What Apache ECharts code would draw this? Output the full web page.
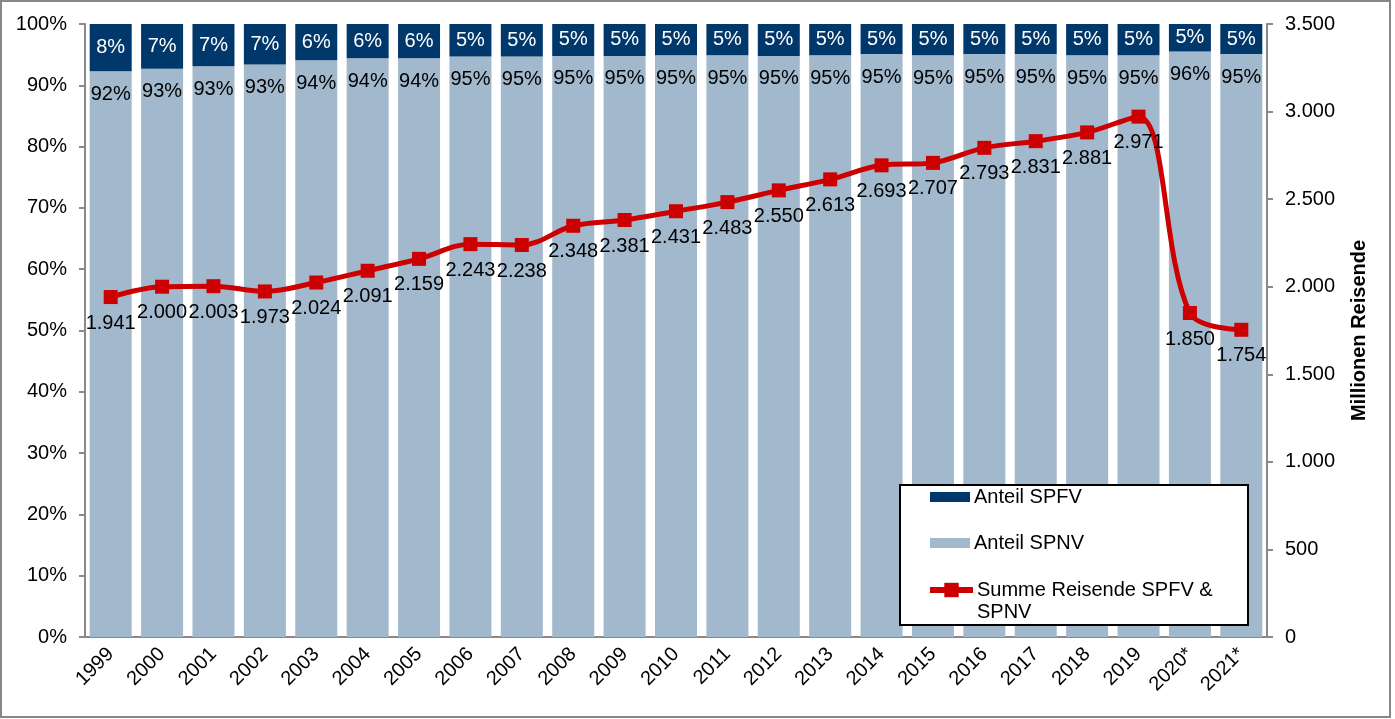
<!DOCTYPE html>
<html>
<head>
<meta charset="utf-8">
<script src="https://cdn.jsdelivr.net/npm/echarts@6/dist/echarts.min.js"></script>
<style>
html,body{margin:0;padding:0;background:#fff;}
#chart{width:1395px;height:719px;}
</style>
</head>
<body>
<div id="chart"></div>
<script>
const years = ['1999','2000','2001','2002','2003','2004','2005','2006','2007','2008','2009','2010','2011','2012','2013','2014','2015','2016','2017','2018','2019','2020*','2021*'];
const shareSPFV = [7.7, 7.3, 6.9, 6.6, 5.9, 5.6, 5.6, 5.3, 5.3, 5.2, 5.2, 5.1, 5.1, 5.2, 5.1, 4.9, 5.1, 4.9, 4.9, 5.1, 5.1, 4.7, 4.9];
const shareSPNV = [92.3, 92.7, 93.1, 93.4, 94.1, 94.4, 94.4, 94.7, 94.7, 94.8, 94.8, 94.9, 94.9, 94.8, 94.9, 95.1, 94.9, 95.1, 95.1, 94.9, 94.9, 95.5, 95.1];
const totalTravellers = [1941, 2000, 2003, 1973, 2024, 2091, 2159, 2243, 2238, 2348, 2381, 2431, 2483, 2550, 2613, 2693, 2707, 2793, 2831, 2881, 2971, 1850, 1754];

const nameSPFV = 'Anteil SPFV';
const nameSPNV = 'Anteil SPNV';
const nameTotal = 'Summe Reisende SPFV & SPNV';

function de(v) {
  v = Math.round(v);
  if (v < 1000) return String(v);
  const t = Math.floor(v / 1000);
  const r = String(v % 1000).padStart(3, '0');
  return t + '.' + r;
}

const FONT = '"Liberation Sans", Arial, sans-serif';
const axisGray = '#898989';
const legendText = {fontSize: 20, color: '#000', fontFamily: FONT, lineHeight: 22, padding: [0, 0, 0, -1]};

const chart = echarts.init(document.getElementById('chart'), null, {renderer: 'canvas'});
chart.setOption({
  animation: false,
  textStyle: {fontFamily: FONT},
  graphic: [{
    type: 'rect', silent: true, z: -10,
    shape: {x: 1, y: 1, width: 1389, height: 716},
    style: {fill: 'none', stroke: '#878787', lineWidth: 2}
  }, {
    type: 'rect', silent: true, z: 3,
    shape: {x: 900, y: 485, width: 348, height: 140},
    style: {fill: '#ffffff', stroke: '#000000', lineWidth: 2}
  }],
  grid: {left: 85, right: 128, top: 24, bottom: 82, containLabel: false},
  legend: [{
    orient: 'vertical',
    left: 930, top: 486,
    padding: 0,
    itemWidth: 40, itemHeight: 10, itemGap: 24,
    z: 4,
    textStyle: legendText,
    data: [
      {name: nameSPFV, icon: 'rect'},
      {name: nameSPNV, icon: 'rect'}
    ]
  }, {
    orient: 'vertical',
    left: 927, top: 557,
    padding: 0,
    itemWidth: 43, itemHeight: 18,
    z: 4,
    lineStyle: {width: 6, color: '#CC0000'},
    textStyle: legendText,
    data: [{name: nameTotal}],
    formatter: function () { return ' \nSumme Reisende SPFV &\nSPNV'; }
  }],
  xAxis: {
    type: 'category',
    data: years,
    axisLine: {lineStyle: {color: axisGray, width: 2}},
    axisTick: {show: false},
    axisLabel: {rotate: 45, fontSize: 20, color: '#000', margin: 14, interval: 0, fontFamily: FONT}
  },
  yAxis: [{
    type: 'value', min: 0, max: 100, interval: 10,
    splitLine: {show: false},
    axisLine: {show: true, lineStyle: {color: axisGray, width: 2}},
    axisTick: {show: true, inside: false, length: 6, lineStyle: {color: axisGray, width: 2}},
    axisLabel: {formatter: '{value}%', fontSize: 20, color: '#000', margin: 18, fontFamily: FONT}
  }, {
    type: 'value', min: 0, max: 3500, interval: 500,
    position: 'right',
    splitLine: {show: false},
    axisLine: {show: true, lineStyle: {color: axisGray, width: 2}},
    axisTick: {show: true, inside: false, length: 6, lineStyle: {color: axisGray, width: 2}},
    axisLabel: {formatter: function (v) { return de(v); }, fontSize: 20, color: '#000', margin: 18, fontFamily: FONT},
    name: 'Millionen Reisende',
    nameLocation: 'middle',
    nameRotate: 90,
    nameGap: 82,
    nameTextStyle: {fontSize: 20, fontWeight: 'bold', color: '#000', fontFamily: FONT}
  }],
  series: [{
    name: nameSPNV,
    type: 'bar',
    stack: 'share',
    barWidth: 42,
    data: shareSPNV,
    itemStyle: {color: '#A2B8CC'},
    label: {show: true, position: 'insideTop', distance: 13, fontSize: 20, color: '#000', fontFamily: FONT,
      formatter: function (p) { return Math.round(p.value) + '%'; }}
  }, {
    name: nameSPFV,
    type: 'bar',
    stack: 'share',
    barWidth: 42,
    data: shareSPFV,
    itemStyle: {color: '#00386C'},
    label: {show: true, position: 'inside', fontSize: 20, color: '#fff', fontFamily: FONT,
      formatter: function (p) { return Math.round(p.value) + '%'; }}
  }, {
    name: nameTotal,
    type: 'line',
    yAxisIndex: 1,
    data: totalTravellers,
    smooth: 0.35,
    symbol: 'rect',
    symbolSize: 14,
    lineStyle: {color: '#CC0000', width: 5},
    itemStyle: {color: '#CC0000'},
    z: 5,
    label: {show: true, position: 'bottom', distance: 9, fontSize: 20, color: '#000', fontFamily: FONT,
      formatter: function (p) { return de(p.value); }}
  }]
});
</script>
</body>
</html>
